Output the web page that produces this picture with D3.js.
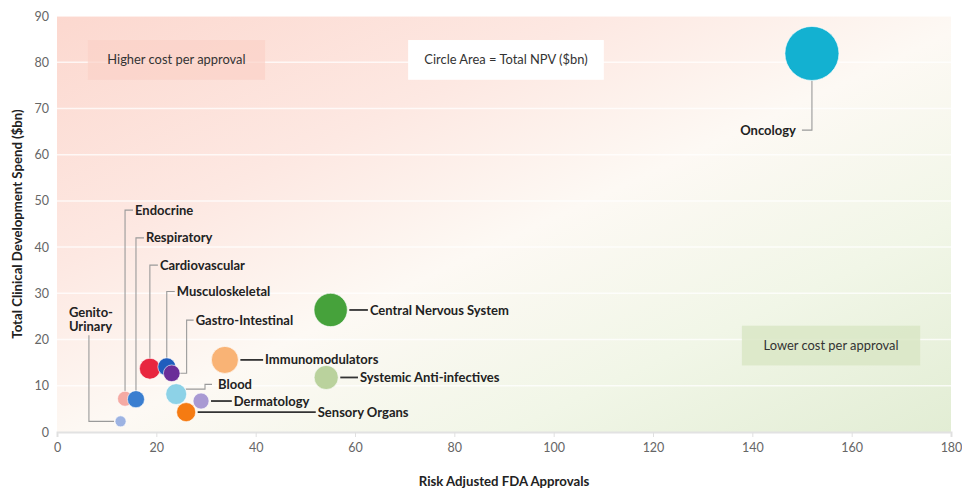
<!DOCTYPE html>
<html>
<head>
<meta charset="utf-8">
<script src="https://cdn.jsdelivr.net/npm/d3@7"></script>
<style>
  html, body { margin: 0; padding: 0; background: #fff; }
  svg { display: block; font-family: Lato, "Open Sans", sans-serif; }
</style>
</head>
<body>
<svg id="chart" width="962" height="497"></svg>
<script>
// Therapy areas: risk-adjusted FDA approvals vs total clinical development spend,
// circle area proportional to total NPV ($bn).
const categories = ["Oncology", "Central Nervous System", "Immunomodulators", "Systemic Anti-infectives",
  "Cardiovascular", "Musculoskeletal", "Gastro-Intestinal", "Blood", "Dermatology", "Sensory Organs",
  "Endocrine", "Respiratory", "Genito-Urinary"];
const approvals = [152, 55.1, 33.8, 54.2, 18.7, 22.1, 23.1, 24.0, 29.0, 26.0, 13.7, 15.9, 12.8];
const spend     = [81.9, 26.4, 15.6, 11.8, 13.7, 14.1, 12.7, 8.2, 6.7, 4.3, 7.2, 7.1, 2.3];
const npv       = [200, 76, 50, 40, 30, 22, 19, 30, 17.5, 25, 15.5, 20, 8.3];
const colors    = ["#13b1d1", "#46a23b", "#f9b375", "#bad29d", "#e8263f", "#1f5dbd", "#6a2d98",
  "#8dd2e7", "#a99ad3", "#f57b12", "#f5aaa3", "#3a7ed0", "#9db3e2"];
const xTicks = [0, 20, 40, 60, 80, 100, 120, 140, 160, 180];
const yTicks = [0, 10, 20, 30, 40, 50, 60, 70, 80, 90];

// Label placement (in data units) and leader style for each therapy area.
const labelLayout = {
  "Oncology":                 { kind: "down",  ly: 65.3 },
  "Central Nervous System":   { kind: "right", lx: 63.0 },
  "Immunomodulators":         { kind: "right", lx: 41.9 },
  "Systemic Anti-infectives": { kind: "right", lx: 61.0 },
  "Dermatology":              { kind: "right", lx: 35.6 },
  "Sensory Organs":           { kind: "right", lx: 52.5 },
  "Endocrine":                { kind: "up",    ly: 48.0 },
  "Respiratory":              { kind: "up",    ly: 42.0 },
  "Cardiovascular":           { kind: "up",    ly: 36.1 },
  "Musculoskeletal":          { kind: "up",    ly: 30.4 },
  "Gastro-Intestinal":        { kind: "elbow", lx: 26.1, ly: 24.2 },
  "Blood":                    { kind: "step",  lx: 29.8, ly: 10.3 },
  "Genito-Urinary":           { kind: "left",  lx: 2.4,  ly: 25.9 }
};

const svg = d3.select("#chart");
const x = d3.scaleLinear().domain([0, 180]).range([57, 951]);
const y = d3.scaleLinear().domain([0, 90]).range([432, 16]);
const r = d3.scaleSqrt().domain([0, 200]).range([0, 27]);

// Diagonal background: pink (high cost per approval) to green (low cost per approval)
const defs = svg.append("defs");
const grad = defs.append("linearGradient").attr("id", "bg")
  .attr("x1", 0).attr("y1", 0).attr("x2", 1).attr("y2", 1);
grad.append("stop").attr("offset", "0%").attr("stop-color", "#fcd8cf");
grad.append("stop").attr("offset", "30%").attr("stop-color", "#fde8e2");
grad.append("stop").attr("offset", "52%").attr("stop-color", "#fdf9f4");
grad.append("stop").attr("offset", "75%").attr("stop-color", "#f1f6e7");
grad.append("stop").attr("offset", "100%").attr("stop-color", "#e2edd4");

svg.append("rect")
  .attr("x", x(0)).attr("y", y(90))
  .attr("width", x(180) - x(0)).attr("height", y(0) - y(90))
  .attr("fill", "url(#bg)");

// Horizontal gridlines
svg.append("g").selectAll("line").data(yTicks.slice(1)).join("line")
  .attr("x1", x(0)).attr("x2", x(180))
  .attr("y1", d => y(d)).attr("y2", d => y(d))
  .attr("stroke", "#ffffff").attr("stroke-opacity", 0.75).attr("stroke-width", 1.5);

// Axes
const yAxis = svg.append("g").attr("transform", `translate(${x(0)},0)`)
  .call(d3.axisLeft(y).tickValues(yTicks).tickSize(0).tickPadding(8));
yAxis.select(".domain").remove();
yAxis.selectAll("text").attr("font-size", 12.5).attr("fill", "#666").attr("font-family", "Lato, sans-serif");

const xAxis = svg.append("g").attr("transform", `translate(0,${y(0)})`)
  .call(d3.axisBottom(x).tickValues(xTicks).tickSize(5).tickPadding(6));
xAxis.select(".domain").attr("stroke", "#e2e2e2").attr("stroke-width", 2);
xAxis.selectAll(".tick line").attr("stroke", "#e0e0e0");
xAxis.selectAll("text").attr("font-size", 12.5).attr("fill", "#666").attr("font-family", "Lato, sans-serif");

// Axis titles
svg.append("text")
  .attr("x", (x(0) + x(180)) / 2).attr("y", 486)
  .attr("text-anchor", "middle").attr("font-size", 13.2).attr("font-weight", 700).attr("fill", "#222")
  .text("Risk Adjusted FDA Approvals");
svg.append("text")
  .attr("transform", `translate(22,${(y(0) + y(90)) / 2}) rotate(-90)`)
  .attr("text-anchor", "middle").attr("font-size", 13.2).attr("font-weight", 700).attr("fill", "#222")
  .text("Total Clinical Development Spend ($bn)");

// Annotation boxes
const boxes = [
  { text: "Higher cost per approval", x0: 6.2, x1: 41.9, y0: 84.8, y1: 76.2, fill: "#fbd2c8", opacity: 0.7 },
  { text: "Circle Area = Total NPV ($bn)", x0: 70.7, x1: 110.1, y0: 84.8, y1: 76.2, fill: "#ffffff", opacity: 1 },
  { text: "Lower cost per approval", x0: 137.9, x1: 173.8, y0: 23.0, y1: 14.4, fill: "#d9e6c5", opacity: 0.85 }
];
const boxG = svg.append("g").selectAll("g").data(boxes).join("g");
boxG.append("rect")
  .attr("x", d => x(d.x0)).attr("y", d => y(d.y0))
  .attr("width", d => x(d.x1) - x(d.x0)).attr("height", d => y(d.y1) - y(d.y0))
  .attr("fill", d => d.fill).attr("fill-opacity", d => d.opacity);
boxG.append("text")
  .attr("x", d => (x(d.x0) + x(d.x1)) / 2).attr("y", d => (y(d.y0) + y(d.y1)) / 2)
  .attr("dy", "0.35em").attr("text-anchor", "middle")
  .attr("font-size", 12.9).attr("fill", "#333")
  .text(d => d.text);

// Bubble records
const data = categories.map((name, i) => ({
  name, cx: x(approvals[i]), cy: y(spend[i]), rad: r(npv[i]), color: colors[i], layout: labelLayout[name]
}));

// Leader lines and labels
const leaderG = svg.append("g").attr("fill", "none");
const labelG = svg.append("g").attr("font-size", 13).attr("font-weight", 700).attr("fill", "#222");

data.forEach(d => {
  const L = d.layout;
  let pts, tx, ty, anchor = "start", dark = false;
  if (L.kind === "right") {
    pts = [[d.cx + d.rad + 2, d.cy], [x(L.lx) - 2, d.cy]];
    tx = x(L.lx); ty = d.cy; dark = true;
  } else if (L.kind === "up") {
    pts = [[d.cx, d.cy - d.rad], [d.cx, y(L.ly)], [d.cx + 8, y(L.ly)]];
    tx = d.cx + 10; ty = y(L.ly);
  } else if (L.kind === "elbow") {
    pts = [[d.cx + d.rad, d.cy], [x(L.lx), d.cy], [x(L.lx), y(L.ly)], [x(L.lx) + 7, y(L.ly)]];
    tx = x(L.lx) + 9; ty = y(L.ly);
  } else if (L.kind === "step") {
    pts = [[d.cx + d.rad - 1, d.cy - 5], [x(L.lx), d.cy - 5], [x(L.lx), y(L.ly)], [x(L.lx) + 7, y(L.ly)]];
    tx = x(L.lx) + 13; ty = y(L.ly);
  } else if (L.kind === "down") {
    pts = [[d.cx, d.cy + d.rad], [d.cx, y(L.ly)], [d.cx - 10, y(L.ly)]];
    tx = d.cx - 16; ty = y(L.ly); anchor = "end";
  } else if (L.kind === "left") {
    const vx = x(L.lx) + 20;
    pts = [[vx, y(L.ly) + 23], [vx, d.cy], [d.cx - d.rad - 1, d.cy]];
    tx = x(L.lx); ty = y(L.ly);
  }
  leaderG.append("path")
    .attr("d", d3.line()(pts))
    .attr("stroke", dark ? "#333" : "#9a9a9a")
    .attr("stroke-width", dark ? 1.8 : 1.1);

  const t = labelG.append("text").attr("x", tx).attr("y", ty).attr("text-anchor", anchor);
  if (L.kind === "left") {
    const parts = ["Genito-", "Urinary"];
    parts.forEach((p, k) => t.append("tspan").attr("x", tx).attr("dy", k === 0 ? "0.35em" : 14.5).text(p));
  } else {
    t.attr("dy", "0.35em").text(d.name);
  }
});

// Bubbles
svg.append("g").selectAll("circle").data(data).join("circle")
  .attr("cx", d => d.cx).attr("cy", d => d.cy).attr("r", d => d.rad)
  .attr("fill", d => d.color)
  .attr("stroke", "#ffffff").attr("stroke-opacity", 0.6).attr("stroke-width", 1);
</script>
</body>
</html>
